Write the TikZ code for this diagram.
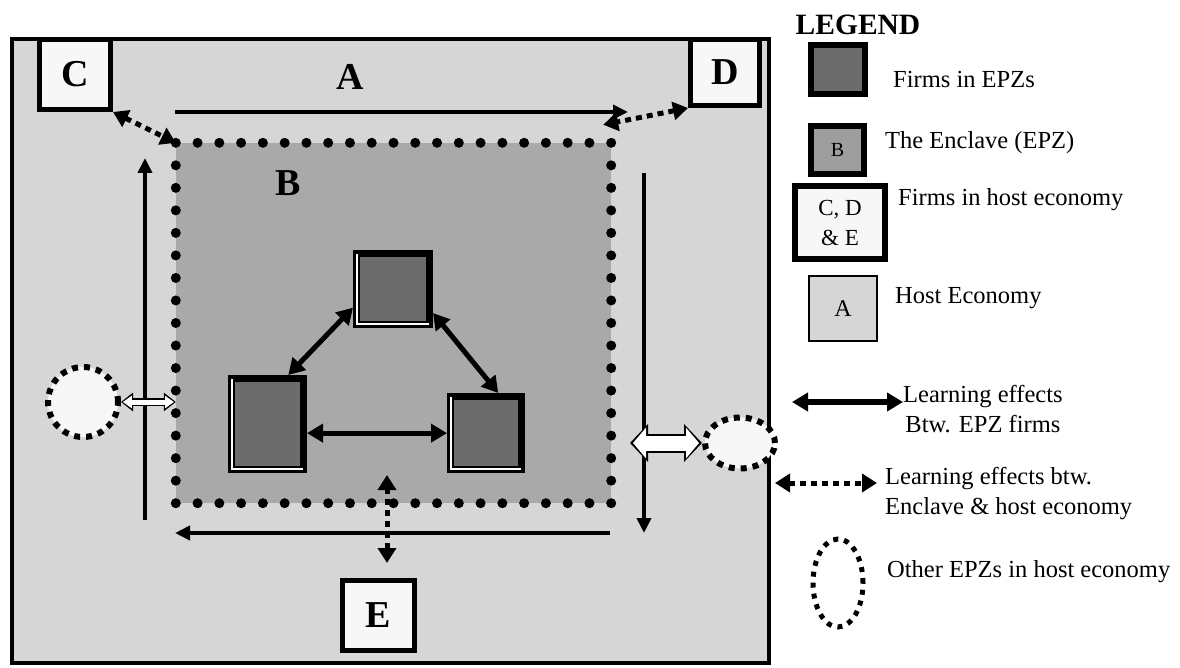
\documentclass[tikz,border=0pt]{standalone}
\usepackage{fontspec}
\setmainfont{Liberation Serif}
\usepackage{tikz}
\usetikzlibrary{arrows.meta,positioning,calc,shapes.geometric}
\definecolor{hostlight}{HTML}{D6D6D6}
\definecolor{enclmid}{HTML}{A9A9A9}
\definecolor{legmid}{HTML}{9E9E9E}
\definecolor{firmdark}{HTML}{6C6C6C}
\definecolor{boxwhite}{HTML}{F7F7F7}

\begin{document}
\begin{tikzpicture}[x=1pt, y=-1pt,
  bigLetter/.style ={font=\fontsize{38}{40}\selectfont\bfseries},
  legText/.style   ={font=\fontsize{24.5}{30}\selectfont, anchor=west, inner sep=0pt},
  letterBox/.style ={rectangle, draw=black, line width=5pt, fill=boxwhite, inner sep=0pt},
  firmBox/.style   ={rectangle, draw=black, line width=7pt, fill=firmdark, inner sep=0pt},
  otherEPZ/.style  ={ellipse, draw=black, fill=boxwhite, line width=6pt, dash pattern=on 6pt off 6pt, inner sep=0pt},
  solidArrow/.style={line width=5pt, {Triangle[length=16pt,width=18pt]}-{Triangle[length=16pt,width=18pt]}},
  cycArrow/.style  ={line width=4pt, -{Triangle[length=15pt,width=14pt]}},
  dotArrow/.style  ={line width=5pt, dash pattern=on 6pt off 5pt, {Triangle[length=15pt,width=18pt]}-{Triangle[length=15pt,width=18pt]}},
]
\useasboundingbox[fill=white] (0,0) rectangle (1180,668);

% host economy A and the enclave B
\node[draw, line width=4pt, fill=hostlight, minimum width=757pt, minimum height=624pt] (host) at (390.5,351) {};
\node[fill=enclmid, minimum width=435pt, minimum height=360pt, inner sep=0pt] (encl) at (393.5,323) {};
\foreach \i in {0,...,19} {
  \fill ($(encl.north west)!{\i/20}!(encl.north east)$) circle[radius=5pt];
  \fill ($(encl.south east)!{\i/20}!(encl.south west)$) circle[radius=5pt];
}
\foreach \i in {0,...,15} {
  \fill ($(encl.north east)!{\i/16}!(encl.south east)$) circle[radius=5pt];
  \fill ($(encl.south west)!{\i/16}!(encl.north west)$) circle[radius=5pt];
}
\node[bigLetter] (labA) at (350,77) {A};
\node[bigLetter] (labB) at (288,183) {B};

% firms in host economy
\node[letterBox, minimum width=71pt, minimum height=70pt] (C) at (75,74.5) {};
\node[bigLetter] (labC) at (C) {C};
\node[letterBox, minimum width=69pt, minimum height=66pt] (D) at (725,72.5) {};
\node[bigLetter] (labD) at (D) {D};
\node[letterBox, minimum width=72pt, minimum height=70pt] (E) at (378.5,615.5) {};
\node[bigLetter] (labE) at (E) {E};

% circulation inside the host economy
\coordinate (cycA1) at (175,112); \coordinate (cycA2) at (628,112);
\coordinate (cycB1) at (644,173); \coordinate (cycB2) at (644,533);
\coordinate (cycC1) at (610,533); \coordinate (cycC2) at (175,533);
\coordinate (cycD1) at (145,520); \coordinate (cycD2) at (145,158);
\draw[cycArrow] (cycA1) -- (cycA2);
\draw[cycArrow] (cycB1) -- (cycB2);
\draw[cycArrow] (cycC1) -- (cycC2);
\draw[cycArrow] (cycD1) -- (cycD2);

% firms in the EPZ
\node[firmBox, minimum width=73pt, minimum height=71pt] (fTop) at (393,289) {};
\node[firmBox, minimum width=72pt, minimum height=91pt] (fLeft) at (267.5,424) {};
\node[firmBox, minimum width=71pt, minimum height=73pt] (fRight) at (486,433) {};
\foreach \f in {fTop,fLeft,fRight}
  \draw[white, line width=1.2pt] ([shift={(4,4)}]\f.north west) -- ([shift={(4,-4)}]\f.south west) -- ([shift={(-4,-4)}]\f.south east);
\draw[solidArrow] (fTop.205) -- (fLeft.67);
\draw[solidArrow] (fTop.-31) -- (fRight.73);
\draw[solidArrow] (fLeft.-13) -- (fLeft.-13 -| fRight.west);

% enclave <-> host economy
\coordinate (eTop) at (387,475);
\draw[dotArrow] (C.south east) -- (encl.north west);
\draw[dotArrow] (D.south west) -- ([shift={(-8,-18)}]encl.north east);
\draw[dotArrow, shorten <=15pt] (E.north -| eTop) -- (eTop);

% other EPZs
\node[otherEPZ, minimum width=70pt, minimum height=70pt] (oEPZw) at (83,402) {};
\node[otherEPZ, minimum width=70pt, minimum height=51pt] (oEPZe) at (740,443) {};
\draw[line width=8pt, {Triangle[length=12pt,width=18pt]}-{Triangle[length=12pt,width=18pt]}] (oEPZw.east) -- (oEPZw.east -| encl.west);
\draw[white, line width=5pt, shorten <=1.8pt, shorten >=1.8pt, {Triangle[length=9pt,width=12pt]}-{Triangle[length=9pt,width=12pt]}] (oEPZw.east) -- (oEPZw.east -| encl.west);
\coordinate (hollowE) at (630,443);
\draw[line width=19pt, {Triangle[length=18pt,width=37pt]}-{Triangle[length=18pt,width=37pt]}] (hollowE) -- (oEPZe.west);
\draw[white, line width=15pt, shorten <=3pt, shorten >=3pt, {Triangle[length=13pt,width=30pt]}-{Triangle[length=13pt,width=30pt]}] (hollowE) -- (oEPZe.west);

% Legend
\node[font=\fontsize{29.5}{30}\selectfont\bfseries] (legTitle) at (858,25) {LEGEND};
\node[firmBox, line width=6pt, minimum width=54pt, minimum height=49pt] (lFirm) at (838,69.5) {};
\node[legText] (lFirmTxt) at (893,80) {Firms in EPZs};
\node[rectangle, draw=black, line width=6pt, fill=legmid, minimum width=53pt, minimum height=48pt,
      font=\fontsize{20}{22}\selectfont] (lEncl) at (837.5,150) {B};
\node[legText] (lEnclTxt) at (885,143) {The Enclave (EPZ)};
\node[letterBox, line width=6pt, minimum width=90pt, minimum height=73pt, align=center,
      font=\fontsize{23}{30}\selectfont] (lHostF) at (840,222.5) {C, D\\\& E};
\node[legText] (lHostFTxt) at (898,200) {Firms in host economy};
\node[rectangle, draw=black, line width=2pt, fill=hostlight, minimum width=68pt, minimum height=65pt,
      font=\fontsize{24}{26}\selectfont] (lA) at (843,308.5) {A};
\node[legText] (lATxt) at (895,298) {Host Economy};

\coordinate (lSolid) at (792,402);
\node[legText, align=center, anchor=north west] (lSolidTxt) at (903,385) {Learning effects\\Btw. EPZ firms};
\draw[solidArrow, line width=6pt] (lSolid) -- (lSolid -| lSolidTxt.west);
\coordinate (lDot) at (775,483);
\node[legText, align=left, anchor=north west] (lDotTxt) at (885,467) {Learning effects btw.\\Enclave \& host economy};
\draw[dotArrow] (lDot) -- ([xshift=-8pt]lDot -| lDotTxt.west);
\node[otherEPZ, fill=none, line width=5pt, dash pattern=on 5pt off 6pt, minimum width=50pt, minimum height=88pt] (lOther) at (838,583) {};
\node[legText] (lOtherTxt) at (887,572) {Other EPZs in host economy};
\end{tikzpicture}
\end{document}
